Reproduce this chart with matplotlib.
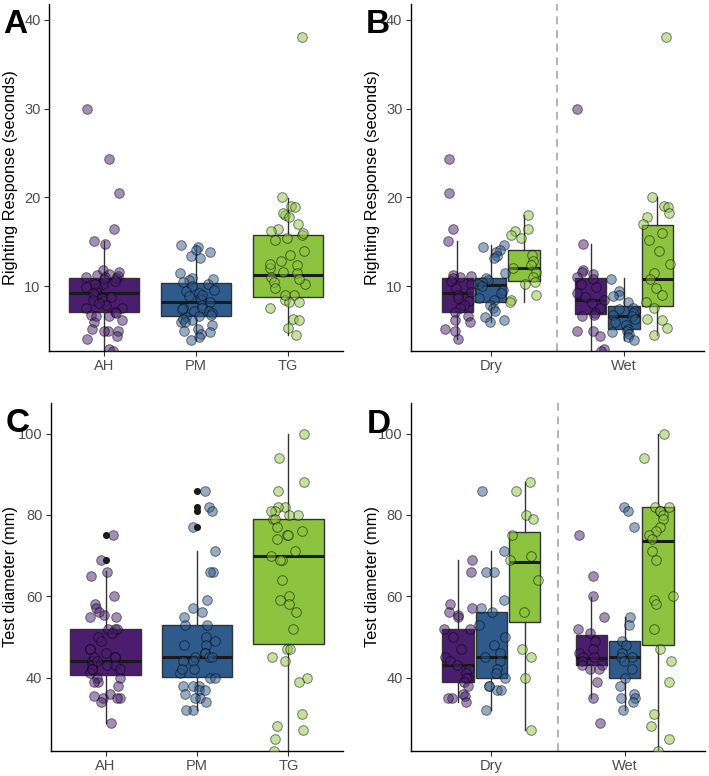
import numpy as np
import matplotlib
matplotlib.use("Agg")
import matplotlib.pyplot as plt
from matplotlib.transforms import blended_transform_factory

plt.rcParams['font.family'] = ['Liberation Sans', 'DejaVu Sans']

# ---------- Data ----------
species = ["AH", "PM", "TG"]
conditions = ["Dry", "Wet"]
colors = ["#4A1D6E", "#2E5B8C", "#8CC43F"]

# righting response (seconds)
rr_ah_dry = [24.3, 20.5, 16.5, 15.1, 11.3, 11.2, 11.0, 10.9, 10.6, 10.2, 9.8, 9.4,
             9.0, 8.7, 8.3, 7.9, 7.5, 7.1, 6.6, 6.2, 6.0, 5.2, 5.0, 4.1]
rr_ah_wet = [30.0, 14.8, 11.8, 11.6, 11.4, 11.0, 10.8, 10.3, 9.9, 9.2, 8.8, 8.5,
             8.1, 7.6, 7.0, 6.8, 6.7, 5.0, 4.9, 4.4, 2.9, 2.7]
rr_pm_dry = [14.6, 14.4, 14.1, 13.8, 13.4, 13.2, 11.5, 10.9, 10.7, 10.5, 10.3, 10.0,
             9.6, 9.2, 8.7, 8.4, 7.9, 7.5, 7.2, 6.5, 6.2, 6.0]
rr_pm_wet = [10.8, 9.5, 9.0, 8.9, 8.2, 7.6, 7.4, 7.2, 7.0, 6.8, 6.6, 6.3,
             6.0, 5.6, 5.2, 5.0, 4.8, 4.6, 4.3, 3.9]
rr_tg_dry = [18.0, 16.5, 16.2, 15.8, 15.4, 13.5, 12.8, 12.4, 12.0, 11.6, 11.0, 10.5,
             10.2, 9.0, 8.5, 8.2]
rr_tg_wet = [38.1, 20.0, 19.0, 18.9, 18.3, 17.8, 17.0, 16.0, 15.2, 14.0, 12.5, 11.5,
             10.8, 9.8, 9.0, 8.2, 7.5, 6.3, 6.2, 5.3, 4.5]

# test diameter (mm)
td_ah_dry = [69, 66, 58, 57, 56, 55.5, 55, 52, 52, 50, 47, 45, 44, 43, 42, 41,
             40, 40, 39, 38, 36, 35.5, 35, 35, 34]
td_ah_wet = [75, 65, 60, 55, 52, 51, 49, 47, 46, 45, 45, 44, 43, 43, 42, 42, 39, 35, 28.8]
td_pm_dry = [86, 71, 66, 66, 59, 57, 56, 53, 50, 48, 46, 45, 44, 42, 41, 40,
             38, 38, 37, 37, 32]
td_pm_wet = [82, 81, 77, 55, 53, 49, 48, 46, 45, 45, 44, 42, 40, 38, 36, 35, 35, 34, 32]
td_tg_dry = [88, 86, 80, 79, 75, 70, 69, 64, 56, 47, 45, 40, 27]
td_tg_wet = [100, 94, 82, 82, 81, 81, 80, 79, 77, 76, 75, 74, 71, 69, 60, 59, 58,
             52, 47, 44, 39, 31, 28, 25, 22]

# box statistics (AH, PM, TG)
rr_all_q1 = [7.1, 6.65, 8.84]
rr_all_med = [9.18, 8.23, 11.24]
rr_all_q3 = [10.94, 10.37, 15.75]
rr_all_lo = [2.0, 3.9, 4.5]
rr_all_hi = [15.15, 14.6, 19.9]

rr_dry_q1 = [7.1, 8.23, 10.64]
rr_dry_med = [9.18, 10.1, 12.0]
rr_dry_q3 = [10.87, 10.94, 14.03]
rr_dry_lo = [4.06, 6.0, 8.2]
rr_dry_hi = [15.15, 14.6, 18.0]

rr_wet_q1 = [6.92, 5.19, 7.82]
rr_wet_med = [8.5, 6.65, 10.83]
rr_wet_q3 = [10.87, 7.74, 16.85]
rr_wet_lo = [2.0, 3.9, 4.5]
rr_wet_hi = [14.8, 10.87, 20.0]

td_all_q1 = [40.66, 40.1, 48.3]
td_all_med = [44.1, 45.1, 70.0]
td_all_q3 = [52.05, 53.0, 79.0]
td_all_lo = [28.8, 32.0, 22.0]
td_all_hi = [66.1, 71.0, 100.0]

td_dry_q1 = [38.9, 39.85, 53.6]
td_dry_med = [43.05, 45.0, 68.5]
td_dry_q3 = [52.0, 56.0, 75.9]
td_dry_lo = [34.0, 32.0, 27.0]
td_dry_hi = [69.0, 71.0, 88.0]

td_wet_q1 = [43.0, 39.85, 48.05]
td_wet_med = [44.8, 45.0, 73.5]
td_wet_q3 = [50.4, 49.0, 82.05]
td_wet_lo = [34.9, 32.0, 22.0]
td_wet_hi = [59.8, 55.0, 100.0]

rr_dry = [rr_ah_dry, rr_pm_dry, rr_tg_dry]
rr_wet = [rr_ah_wet, rr_pm_wet, rr_tg_wet]
td_dry = [td_ah_dry, td_pm_dry, td_tg_dry]
td_wet = [td_ah_wet, td_pm_wet, td_tg_wet]


def make_stats(q1, med, q3, lo, hi, data):
    out = []
    for i in range(len(q1)):
        fl = [v for v in data[i] if v > hi[i] + 1e-9 or v < lo[i] - 1e-9]
        out.append(dict(q1=q1[i], med=med[i], q3=q3[i], whislo=lo[i], whishi=hi[i], fliers=fl))
    return out


BOX_EDGE = "#333333"


def draw_boxes(ax, stats, positions, width, show_fliers=False):
    bp = ax.bxp(stats, positions=positions, widths=width, patch_artist=True,
                showfliers=False, showcaps=False,
                boxprops=dict(edgecolor=BOX_EDGE, linewidth=1.0),
                whiskerprops=dict(color=BOX_EDGE, linewidth=1.0),
                medianprops=dict(color="#1a1a1a", linewidth=2.2, solid_capstyle="butt"),
                zorder=2)
    for patch, c in zip(bp["boxes"], colors):
        patch.set_facecolor(c)
    if show_fliers:
        for s, p in zip(stats, positions):
            if s["fliers"]:
                ax.scatter([p] * len(s["fliers"]), s["fliers"], s=26, color="#1a1a1a",
                           zorder=4, linewidths=0)


def draw_points(ax, data, positions, jit, rng):
    for vals, p, c in zip(data, positions, colors):
        x = p + rng.uniform(-jit, jit, len(vals))
        ax.scatter(x, vals, s=48, color=c, edgecolors="black", linewidths=0.7,
                   alpha=0.5, zorder=3)


def style_axes(ax, ylim, yticks, ylabel, xlabels, xpos, xlim, label_x):
    for side in ("top", "right"):
        ax.spines[side].set_visible(False)
    for side in ("left", "bottom"):
        ax.spines[side].set_linewidth(1.0)
        ax.spines[side].set_color("black")
    ax.set_ylim(*ylim)
    ax.set_xlim(*xlim)
    ax.set_yticks(yticks)
    ax.set_xticks(xpos)
    ax.set_xticklabels(xlabels)
    ax.tick_params(axis="both", length=3.5, width=0.8, color="#333333",
                   labelcolor="#4d4d4d", labelsize=10.5, pad=2.5)
    ax.set_ylabel(ylabel, fontsize=11.8, color="black")
    # label x is the right edge of the rotated text
    tr = blended_transform_factory(ax.figure.transFigure, ax.transAxes)
    ax.yaxis.set_label_coords(label_x, 0.5, transform=tr)


W, H = 709, 776
fig = plt.figure(figsize=(W / 100, H / 100), dpi=100)


def add_axes(left, right, top, bottom):
    return fig.add_axes([left / W, 1 - bottom / H, (right - left) / W, (bottom - top) / H])


axA = add_axes(49, 343, 4, 351)
axB = add_axes(410.7, 704, 4, 351)
axC = add_axes(50.7, 343.3, 402.7, 750.7)
axD = add_axes(411.3, 704.7, 402.7, 750.7)

rng = np.random.default_rng(7)
pos3 = [1, 2, 3]
offs = [-0.25, 0.0, 0.25]

# ---- A ----
rr_all = [a + b for a, b in zip(rr_dry, rr_wet)]
draw_boxes(axA, make_stats(rr_all_q1, rr_all_med, rr_all_q3, rr_all_lo, rr_all_hi, rr_all),
           pos3, 0.77)
draw_points(axA, rr_all, pos3, 0.2, rng)
style_axes(axA, (2.7, 41.8), [10, 20, 30, 40], "Righting Response (seconds)",
           species, pos3, (0.4, 3.6), 18 / W)

# ---- B ----
for ci, (data, q1, med, q3, lo, hi) in enumerate([
        (rr_dry, rr_dry_q1, rr_dry_med, rr_dry_q3, rr_dry_lo, rr_dry_hi),
        (rr_wet, rr_wet_q1, rr_wet_med, rr_wet_q3, rr_wet_lo, rr_wet_hi)]):
    pos = [ci + 1 + o for o in offs]
    draw_boxes(axB, make_stats(q1, med, q3, lo, hi, data), pos, 0.235)
    draw_points(axB, data, pos, 0.11, rng)
axB.axvline(1.5, color="#b3b3b3", linestyle=(0, (4, 3)), linewidth=1.4, zorder=1)
style_axes(axB, (2.7, 41.8), [10, 20, 30, 40], "Righting Response (seconds)",
           conditions, [1, 2], (0.4, 2.6), 380 / W)

# ---- C ----
td_all = [a + b for a, b in zip(td_dry, td_wet)]
draw_boxes(axC, make_stats(td_all_q1, td_all_med, td_all_q3, td_all_lo, td_all_hi, td_all),
           pos3, 0.77, show_fliers=True)
draw_points(axC, td_all, pos3, 0.2, rng)
style_axes(axC, (22, 107.6), [40, 60, 80, 100], "Test diameter (mm)",
           species, pos3, (0.4, 3.6), 18 / W)

# ---- D ----
for ci, (data, q1, med, q3, lo, hi) in enumerate([
        (td_dry, td_dry_q1, td_dry_med, td_dry_q3, td_dry_lo, td_dry_hi),
        (td_wet, td_wet_q1, td_wet_med, td_wet_q3, td_wet_lo, td_wet_hi)]):
    pos = [ci + 1 + o for o in offs]
    draw_boxes(axD, make_stats(q1, med, q3, lo, hi, data), pos, 0.235)
    draw_points(axD, data, pos, 0.11, rng)
axD.axvline(1.5, color="#b3b3b3", linestyle=(0, (4, 3)), linewidth=1.4, zorder=1)
style_axes(axD, (22, 107.6), [40, 60, 80, 100], "Test diameter (mm)",
           conditions, [1, 2], (0.4, 2.6), 380 / W)

# panel letters
for letter, x, y in [("A", 3, 33), ("B", 366, 33), ("C", 6, 432), ("D", 367, 433)]:
    fig.text(x / W, 1 - y / H, letter, fontsize=24, fontweight="bold",
             ha="left", va="baseline", color="black", zorder=10)

fig.savefig("out.png", dpi=100)
